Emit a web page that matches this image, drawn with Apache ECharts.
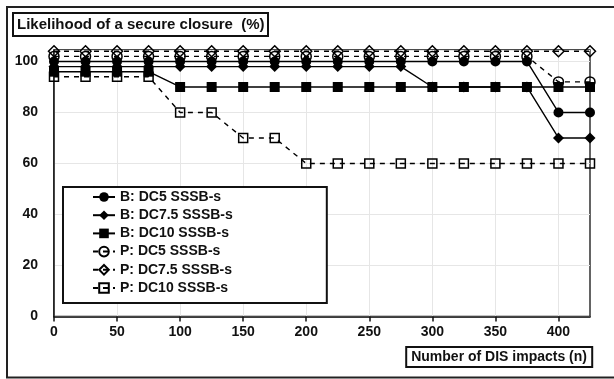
<!DOCTYPE html>
<html>
<head>
<meta charset="utf-8">
<script src="https://cdn.jsdelivr.net/npm/echarts@6/dist/echarts.min.js"></script>
<style>html,body{margin:0;padding:0;background:#fff}#c{width:614px;height:379px}</style>
</head>
<body>
<div id="c"></div>
<script>
const impacts = [0,25,50,75,100,125,150,175,200,225,250,275,300,325,350,375,400,425];
const bDC5   = [100,100,100,100,100,100,100,100,100,100,100,100,100,100,100,100,80,80];
const bDC75  = [98,98,98,98,98,98,98,98,98,98,98,98,90,90,90,90,70,70];
const bDC10  = [96,96,96,96,90,90,90,90,90,90,90,90,90,90,90,90,90,90];
const pDC5   = [102,102,102,102,102,102,102,102,102,102,102,102,102,102,102,102,92,92];
const pDC75  = [104,104,104,104,104,104,104,104,104,104,104,104,104,104,104,104,104,104];
const pDC10  = [94,94,94,94,80,80,70,70,60,60,60,60,60,60,60,60,60,60];
const seriesNames = ['B: DC5 SSSB-s','B: DC7.5 SSSB-s','B: DC10 SSSB-s','P: DC5 SSSB-s','P: DC7.5 SSSB-s','P: DC10 SSSB-s'];
const xTicks = [0,50,100,150,200,250,300,350,400];
const yTicks = [0,20,40,60,80,100];
const titleText = 'Likelihood of a secure closure  (%)';
const xName = 'Number of DIS impacts (n)';

const FONT = '"Liberation Sans", Arial, sans-serif';
const pair = arr => impacts.map((x,i)=>[x,arr[i]]);

function mk(name, data, symbol, size, filled, dashed){
  return {
    name, type:'line', data: pair(data), symbol, symbolSize: size,
    lineStyle:{color:'#000', width:1.4, type: dashed ? [5,5] : 'solid'},
    itemStyle: filled ? {color:'#000', borderColor:'#000', borderWidth:0}
                      : {color:'rgba(255,255,255,0)', borderColor:'#000', borderWidth:1.5},
    emphasis:{disabled:true}, animation:false
  };
}

const chart = echarts.init(document.getElementById('c'), null, {renderer:'canvas'});
chart.setOption({
  backgroundColor:'#fff',
  animation:false,
  title:[
    {text:titleText, left:13, top:13, padding:[3,4,3,4], borderColor:'#111', borderWidth:2,
     textStyle:{fontFamily:FONT, fontSize:15, fontWeight:'bold', color:'#111', lineHeight:17}},
    {text:xName, right:22, top:347, padding:[2,5,2,5], borderColor:'#111', borderWidth:2,
     textStyle:{fontFamily:FONT, fontSize:14, fontWeight:'bold', color:'#111', lineHeight:16}}
  ],
  graphic:[{type:'rect', shape:{x:7, y:7, width:612, height:370.5}, style:{fill:'none', stroke:'#222', lineWidth:2}, silent:true, z:100}],
  legend:{
    data: seriesNames, orient:'vertical', left:63, top:187,
    padding:[2,94,7,29], itemGap:2.2, itemWidth:22, itemHeight:12,
    borderColor:'#111', borderWidth:2, backgroundColor:'#fff',
    textStyle:{fontFamily:FONT, fontSize:14, fontWeight:'bold', color:'#111', lineHeight:16}
  },
  grid:{left:54, right:24, top:50, bottom:62.5, show:true, borderColor:'#111', borderWidth:1.3, backgroundColor:'transparent'},
  xAxis:{
    type:'value', min:0, max:425, interval:50,
    axisLine:{lineStyle:{color:'#111', width:1.5}},
    axisTick:{show:true, length:5, lineStyle:{color:'#111', width:1.5}, customValues:xTicks},
    axisLabel:{customValues:xTicks, margin:9, fontFamily:FONT, fontSize:14, fontWeight:'bold', color:'#111'},
    splitLine:{show:true, lineStyle:{color:'#e6e6e6', width:1}}
  },
  yAxis:{
    type:'value', min:0, max:104.5, interval:20,
    axisLine:{show:true, lineStyle:{color:'#111', width:1.5}},
    axisTick:{show:false},
    axisLabel:{customValues:yTicks, margin:16, fontFamily:FONT, fontSize:14, fontWeight:'bold', color:'#111'},
    splitLine:{show:true, lineStyle:{color:'#e6e6e6', width:1}}
  },
  series:[
    mk(seriesNames[3], pDC5, 'circle', 10, false, true),
    mk(seriesNames[4], pDC75, 'diamond', 11, false, true),
    mk(seriesNames[5], pDC10, 'rect', 9, false, true),
    mk(seriesNames[0], bDC5, 'circle', 10, true, false),
    mk(seriesNames[1], bDC75, 'diamond', 11, true, false),
    mk(seriesNames[2], bDC10, 'rect', 10, true, false)
  ]
});
</script>
</body>
</html>
